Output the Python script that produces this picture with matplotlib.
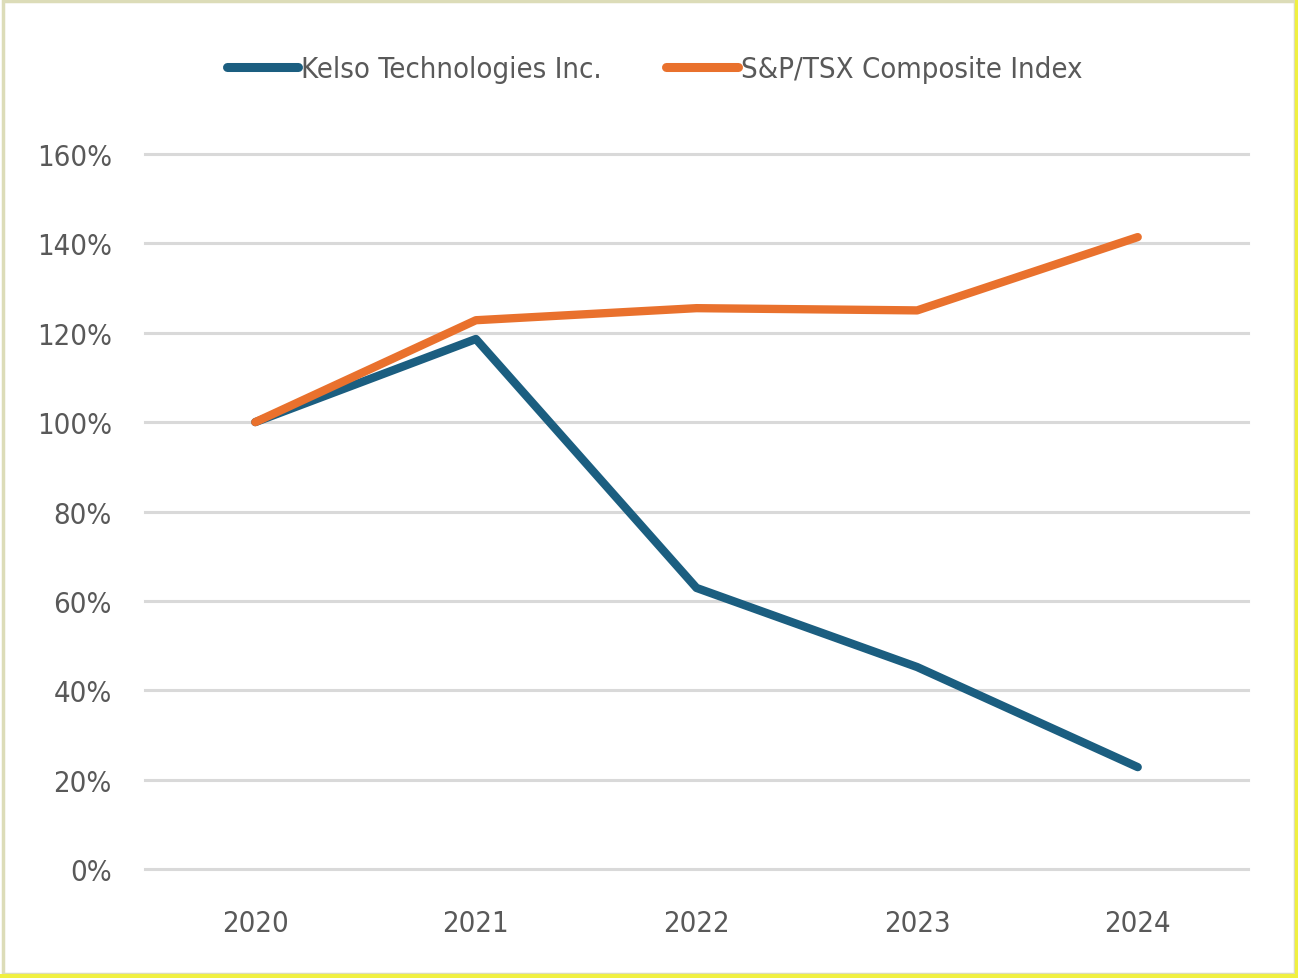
import matplotlib.pyplot as plt
from matplotlib.patches import Rectangle

years = ['2020', '2021', '2022', '2023', '2024']
kelso = [100, 118.6, 62.9, 45.2, 22.8]
tsx = [100, 122.8, 125.5, 125.0, 141.4]
yticks = [0, 20, 40, 60, 80, 100, 120, 140, 160]

plt.rcParams['font.family'] = ['DejaVu Sans']
plt.rcParams['font.stretch'] = 'condensed'
color_texto = '#595959'

fig = plt.figure(figsize=(12.98, 9.79), dpi=100)
ax = fig.add_axes([0.1117, 0.1113, 0.8498, 0.7304])

x = list(range(len(years)))
ax.plot(x, kelso, color='#1b5e80', lw=6, solid_capstyle='round', solid_joinstyle='round',
        label='Kelso Technologies Inc.', zorder=3)
ax.plot(x, tsx, color='#e9712d', lw=6, solid_capstyle='round', solid_joinstyle='round',
        label='S&P/TSX Composite Index', zorder=4)

ax.set_xlim(-0.5, len(years) - 0.5)
ax.set_ylim(0, 160)
ax.set_xticks(x)
ax.set_xticklabels(years)
ax.set_yticks(yticks)
ax.set_yticklabels([f'{v}%' for v in yticks])
ax.tick_params(axis='both', length=0, labelsize=21, labelcolor=color_texto)
ax.tick_params(axis='x', pad=29)
ax.tick_params(axis='y', pad=24)
ax.grid(axis='y', color='#d9d9d9', lw=2.2)
for gl in ax.get_ygridlines():
    gl.set_clip_on(False)
ax.set_axisbelow(True)
for s in ax.spines.values():
    s.set_visible(False)

leg = ax.legend(loc='center', bbox_to_anchor=(0.462, 1.119), ncol=2, frameon=False,
                fontsize=21, handlelength=2.45, handletextpad=0.1, columnspacing=2.2)
for t in leg.get_texts():
    t.set_color(color_texto)
for h in leg.get_lines():
    h.set_linewidth(6.5)

# borde de la imagen
fig.patches.append(Rectangle((0.002, 0.004), 0.996, 0.994, transform=fig.transFigure,
                             fill=False, edgecolor='#dcdcb8', lw=2.5))
fig.patches.append(Rectangle((0, 0), 1, 0.004, transform=fig.transFigure,
                             color='#f0f040', lw=0))
fig.patches.append(Rectangle((0.998, 0), 0.002, 1, transform=fig.transFigure,
                             color='#f0f040', lw=0))

plt.savefig('out.png', dpi=100)
